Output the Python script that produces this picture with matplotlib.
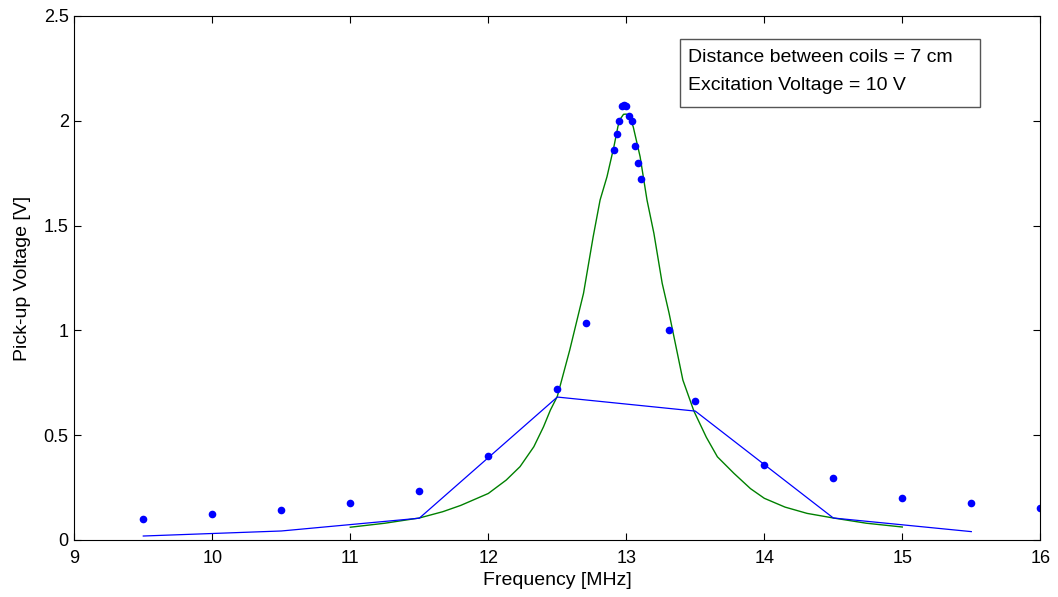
import numpy as np
import matplotlib
matplotlib.use('Agg')
import matplotlib.pyplot as plt
from matplotlib.patches import Rectangle

plt.rcParams['font.family'] = ['Liberation Sans', 'DejaVu Sans']

# measured points (blue dots)
freq = [9.5, 10.0, 10.5, 11.0, 11.5, 12.0, 12.5, 12.706, 12.908, 12.93, 12.95,
        12.97, 12.985, 13.0, 13.02, 13.04, 13.06, 13.085, 13.105, 13.31, 13.5,
        14.0, 14.5, 15.0, 15.5, 16.0]
volt = [0.100, 0.122, 0.141, 0.176, 0.234, 0.399, 0.722, 1.035, 1.859, 1.937, 1.999,
        2.072, 2.075, 2.072, 2.023, 1.997, 1.881, 1.797, 1.721, 1.000, 0.662,
        0.358, 0.296, 0.199, 0.177, 0.155]

# coarse model (blue line)
coarse_f = [9.5, 10.5, 11.5, 12.5, 13.5, 14.5, 15.5]
coarse_v = [0.019, 0.043, 0.104, 0.682, 0.615, 0.105, 0.040]

# fitted curve (green line)
fit_f = [11.0, 11.25, 11.5, 11.67, 11.8, 12.0, 12.13, 12.23, 12.33, 12.40, 12.45,
         12.5, 12.59, 12.69, 12.76, 12.81, 12.86, 12.91, 12.94, 12.96, 12.98, 13.0,
         13.02, 13.05, 13.1, 13.15, 13.2, 13.26, 13.31, 13.37, 13.41, 13.49, 13.58,
         13.66, 13.78, 13.9, 14.0, 14.15, 14.31, 14.5, 14.74, 15.0]
fit_v = [0.061, 0.080, 0.105, 0.135, 0.165, 0.222, 0.286, 0.350, 0.445, 0.540, 0.620,
         0.685, 0.906, 1.177, 1.447, 1.622, 1.733, 1.876, 1.975, 2.012, 2.031, 2.032,
         2.020, 1.972, 1.829, 1.622, 1.463, 1.225, 1.082, 0.891, 0.763, 0.615, 0.490,
         0.397, 0.318, 0.245, 0.199, 0.157, 0.127, 0.105, 0.080, 0.062]

fig = plt.figure(figsize=(10.58, 5.97), dpi=100)
ax = fig.add_axes([74.3/1058, 57/597, 966/1058, 524/597])

ax.plot(fit_f, fit_v, color='#008000', lw=1.0)
ax.plot(coarse_f, coarse_v, color='#0000ff', lw=0.9)
ax.plot(freq, volt, 'o', color='#0000ff', ms=5.5, mec='none')

ax.set_xlim(9, 16)
ax.set_ylim(0, 2.5)
ax.set_xticks(range(9, 17))
ax.set_yticks([0, 0.5, 1, 1.5, 2, 2.5])
ax.set_yticklabels(['0', '0.5', '1', '1.5', '2', '2.5'])
ax.tick_params(direction='in', top=True, right=True, length=5, width=0.8,
               labelsize=13)
ax.tick_params(axis='x', pad=7)
ax.tick_params(axis='y', pad=4)
for s in ax.spines.values():
    s.set_linewidth(0.8)
ax.set_xlabel('Frequency [MHz]', fontsize=14, labelpad=4)
ax.set_ylabel('Pick-up Voltage [V]', fontsize=14, labelpad=9)

# annotation box
fig.patches.append(Rectangle((680/1058, (597-107)/597), 300/1058, 68/597,
                             transform=fig.transFigure, fill=True, fc='white',
                             ec='#555555', lw=1.0))
fig.text(688/1058, 1-58/597, 'Distance between coils = 7 cm', fontsize=14, va='center')
fig.text(688/1058, 1-85/597, 'Excitation Voltage = 10 V', fontsize=14, va='center')

fig.savefig('out.png', dpi=100)
